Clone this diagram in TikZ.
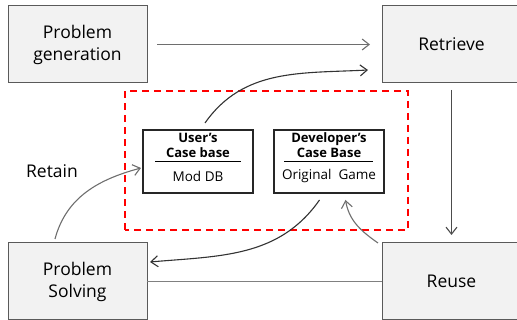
\documentclass[tikz,border=0pt]{standalone}
\usepackage{fontspec}
\setmainfont{Open Sans}
\usetikzlibrary{positioning, arrows.meta}
\definecolor{boxgrey}{HTML}{F2F2F2}
\definecolor{edgegrey}{HTML}{5A5A5A}
\definecolor{arrowgrey}{HTML}{6E6E6E}
\definecolor{framered}{HTML}{FF0000}
\tikzset{
  stage/.style={draw=edgegrey, fill=boxgrey, line width=1pt, minimum width=139pt, minimum height=77pt,
    align=center, inner sep=0pt, outer sep=0pt, font=\fontsize{17.5}{22}\selectfont},
  casebase/.style={draw=black!85, line width=1.6pt, minimum width=110pt, minimum height=63pt, outer sep=0pt},
  cbtitle/.style={align=center, inner sep=0pt, font=\bfseries\fontsize{13}{15}\selectfont},
  cbentry/.style={inner sep=0pt, font=\fontsize{13.5}{16}\selectfont},
  flow/.style={-{Straight Barb[length=7pt,width=11pt]}, line width=1.1pt},
}

\begin{document}
\begin{tikzpicture}[x=1pt, y=1pt, node distance=160pt and 235pt]
    \clip (0,0) rectangle (517,320);

    % Stages of the cycle
    \node (gen)   [stage] at (77.5,275.5) {Problem\\generation};
    \node (ret)   [stage, right=of gen]   {Retrieve};
    \node (solve) [stage, below=of gen]   {Problem\\Solving};
    \node (reuse) [stage, right=of solve] {Reuse};

    % Case bases
    \draw [framered, line width=1.8pt, dash pattern=on 7pt off 5pt] (125,90) rectangle (408,229);
    \node (user) [casebase] at (198,158.5) {};
    \node (dev)  [casebase, right=21pt of user] {};

    \node (usertitle) [cbtitle] at ([yshift=-15.5pt]user.north) {User’s\\Case base};
    \node (devtitle)  [cbtitle] at ([yshift=-15.5pt]dev.north)  {Developer’s\\Case Base};
    \draw [line width=0.8pt] ([xshift=-43pt]user.center) -- ([xshift=43pt]user.center);
    \draw [line width=0.8pt] ([xshift=-45pt]dev.center) -- ([xshift=44pt]dev.center);
    \node (userdb) [cbentry] at ([yshift=-14.5pt]user.center) {Mod DB};
    \node (devdb)  [cbentry] at ([yshift=-14.5pt]dev.center)  {Original~~Game};

    \node (retain) [font=\fontsize{17.5}{22}\selectfont] at (52,149) {Retain};

    % Connectors
    \draw [flow, arrowgrey, shorten <=10pt, shorten >=12pt] (gen) -- (ret);
    \draw [flow, black!80] ([shift={(7pt,7pt)}]user.north) to[out=55, in=183] ([shift={(-14pt,13pt)}]ret.south west);
    \draw [flow, black!70, shorten <=7pt, shorten >=8pt] (ret) -- (reuse);
    \draw [flow, arrowgrey] ([xshift=-4pt]reuse.north west) to[out=145, in=-80] ([shift={(16.5pt,-7pt)}]dev.south);
    \draw [flow, black!80] ([shift={(-9.5pt,-7pt)}]dev.south) to[out=-125, in=5] ([shift={(3pt,19.5pt)}]solve.east);
    \draw [flow, arrowgrey] ([shift={(-22.5pt,4pt)}]solve.north) to[out=75, in=195] ([shift={(-2pt,-6.5pt)}]user.west);
    \draw [line width=1.1pt, black!50] (solve) -- (reuse);

\end{tikzpicture}
\end{document}
